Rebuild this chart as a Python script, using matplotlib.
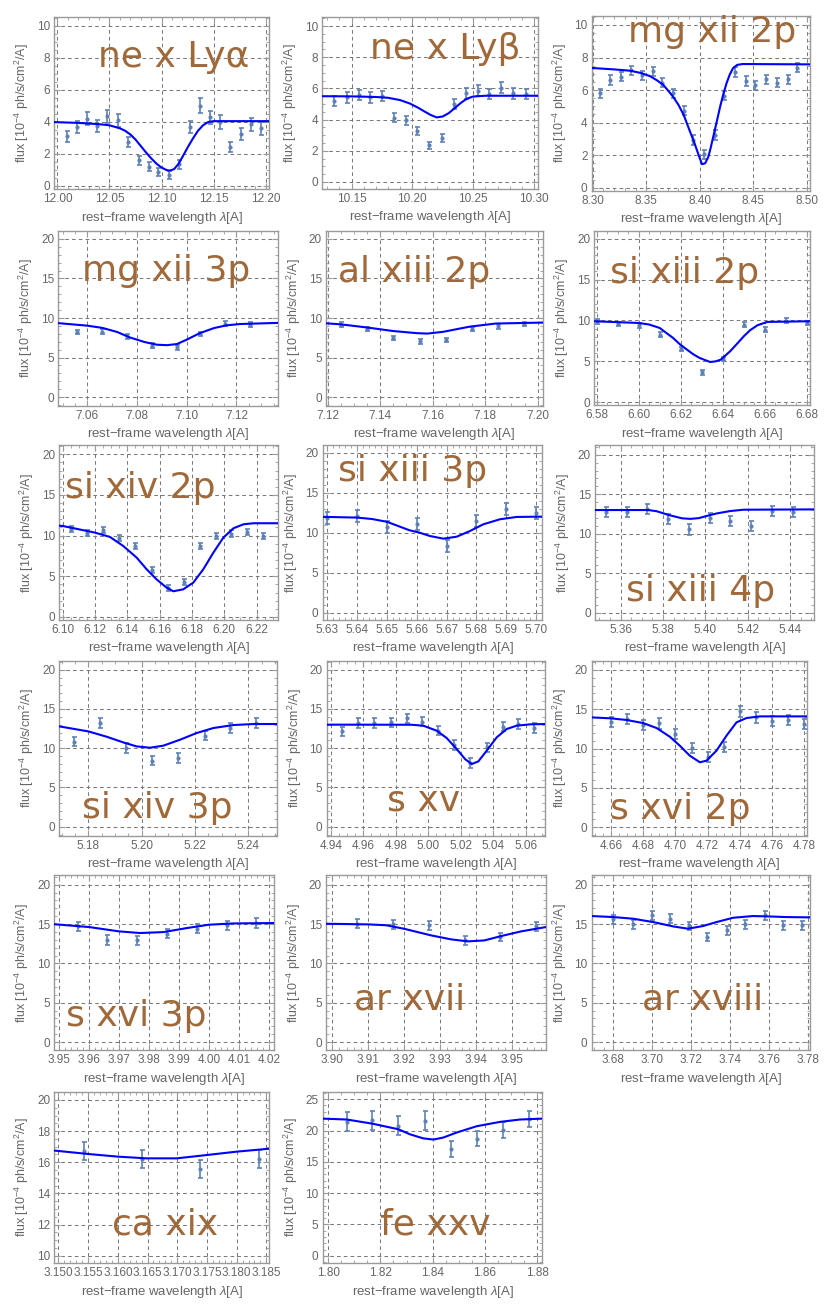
import numpy as np
import matplotlib
matplotlib.use("Agg")
import matplotlib.pyplot as plt
from matplotlib.ticker import MultipleLocator, AutoMinorLocator, FormatStrFormatter

plt.rcParams['font.family'] = ['Liberation Sans', 'DejaVu Sans']
plt.rcParams['mathtext.fontset'] = 'custom'
plt.rcParams['mathtext.rm'] = 'Liberation Sans'
plt.rcParams['mathtext.it'] = 'Liberation Sans:italic'

# ---------------- data ----------------
labels = ['ne x Lyα', 'ne x Lyβ', 'mg xii 2p', 'mg xii 3p', 'al xiii 2p', 'si xiii 2p',
          'si xiv 2p', 'si xiii 3p', 'si xiii 4p', 'si xiv 3p', 's xv', 's xvi 2p',
          's xvi 3p', 'ar xvii', 'ar xviii', 'ca xix', 'fe xxv']

ne10a_wl = [12.009, 12.019, 12.028, 12.038, 12.048, 12.058, 12.068, 12.078, 12.088, 12.097,
            12.107, 12.117, 12.127, 12.137, 12.147, 12.156, 12.166, 12.176, 12.186, 12.196]
ne10a_flux = [3.1, 3.7, 4.2, 3.75, 4.35, 4.1, 2.75, 1.6, 1.2, 0.85, 0.7, 1.35, 3.7, 5.0, 4.3,
              4.0, 2.45, 3.25, 3.85, 3.6]
ne10a_err = [0.35, 0.38, 0.4, 0.38, 0.42, 0.4, 0.33, 0.3, 0.27, 0.25, 0.25, 0.27, 0.37, 0.47,
             0.4, 0.42, 0.3, 0.35, 0.4, 0.4]
ne10a_mwl = [11.997, 12.02, 12.04, 12.05, 12.06, 12.065, 12.07, 12.075, 12.08, 12.085, 12.09,
             12.095, 12.10, 12.105, 12.108, 12.112, 12.116, 12.12, 12.125, 12.13, 12.135,
             12.14, 12.145, 12.15, 12.16, 12.2035]
ne10a_mflux = [3.99, 3.94, 3.86, 3.79, 3.6, 3.45, 3.22, 2.9, 2.5, 2.1, 1.73, 1.4, 1.15, 0.99,
               0.96, 1.05, 1.35, 1.8, 2.4, 2.95, 3.45, 3.8, 4.0, 4.05, 4.05, 4.05]

ne10b_wl = [10.136, 10.146, 10.156, 10.165, 10.175, 10.185, 10.195, 10.204, 10.214, 10.224,
            10.234, 10.244, 10.254, 10.263, 10.273, 10.283, 10.293]
ne10b_flux = [5.18, 5.42, 5.6, 5.42, 5.52, 4.13, 3.96, 3.25, 2.36, 2.83, 4.99, 5.68, 5.85,
              5.63, 6.04, 5.68, 5.63]
ne10b_err = [0.33, 0.33, 0.33, 0.33, 0.33, 0.28, 0.28, 0.25, 0.22, 0.25, 0.33, 0.35, 0.35,
             0.33, 0.35, 0.33, 0.33]
ne10b_mwl = [10.126, 10.15, 10.17, 10.18, 10.19, 10.198, 10.205, 10.21, 10.215, 10.22, 10.225,
             10.23, 10.235, 10.24, 10.245, 10.25, 10.26, 10.3035]
ne10b_mflux = [5.5, 5.49, 5.45, 5.4, 5.25, 5.03, 4.75, 4.52, 4.3, 4.14, 4.2, 4.42, 4.75, 5.08,
               5.35, 5.48, 5.53, 5.53]

mg12a_wl = [8.307, 8.316, 8.326, 8.336, 8.346, 8.356, 8.365, 8.375, 8.385, 8.394, 8.404,
            8.414, 8.423, 8.433, 8.443, 8.452, 8.462, 8.472, 8.482, 8.491]
mg12a_flux = [5.8, 6.62, 6.82, 7.23, 6.9, 7.15, 6.45, 5.8, 4.73, 2.93, 2.05, 3.24, 5.66, 7.11,
              6.56, 6.29, 6.66, 6.45, 6.66, 7.38]
mg12a_err = [0.28] * 20
mg12a_mwl = [8.299, 8.32, 8.335, 8.345, 8.3534, 8.36, 8.366, 8.37, 8.375, 8.38, 8.385, 8.39,
             8.395, 8.399, 8.402, 8.405, 8.408, 8.41, 8.4126, 8.416, 8.419, 8.422, 8.425,
             8.428, 8.431, 8.435, 8.44, 8.503]
mg12a_mflux = [7.36, 7.27, 7.19, 7.05, 6.86, 6.6, 6.31, 6.0, 5.6, 5.1, 4.47, 3.6, 2.75, 2.0,
               1.45, 1.5, 1.9, 2.4, 3.14, 4.1, 4.98, 5.75, 6.42, 6.95, 7.34, 7.55, 7.6, 7.58]

mg12b_wl = [7.056, 7.066, 7.076, 7.086, 7.096, 7.1055, 7.1154, 7.1254]
mg12b_flux = [8.23, 8.27, 7.68, 6.5, 6.29, 7.97, 9.28, 9.16]
mg12b_err = [0.3] * 8
mg12b_mwl = [7.0483, 7.06, 7.066, 7.072, 7.077, 7.083, 7.088, 7.092, 7.096, 7.100, 7.105,
             7.111, 7.116, 7.1215, 7.1366]
mg12b_mflux = [9.35, 9.03, 8.75, 8.23, 7.55, 6.96, 6.62, 6.56, 6.7, 7.26, 8.05, 8.73, 9.07,
               9.24, 9.38]

al13_wl = [7.1253, 7.1351, 7.145, 7.155, 7.1651, 7.1749, 7.1848, 7.1947]
al13_flux = [9.16, 8.6, 7.47, 7.05, 7.22, 8.6, 8.95, 9.24]
al13_err = [0.3] * 8
al13_mwl = [7.1194, 7.125, 7.135, 7.145, 7.154, 7.158, 7.164, 7.174, 7.184, 7.2019]
al13_mflux = [9.33, 9.2, 8.8, 8.35, 8.08, 8.03, 8.25, 8.9, 9.3, 9.42]

si13a_wl = [6.580, 6.590, 6.600, 6.610, 6.620, 6.630, 6.640, 6.650, 6.660, 6.670, 6.680]
si13a_flux = [9.9, 9.57, 9.41, 8.26, 6.5, 3.64, 5.28, 9.49, 8.88, 9.98, 9.69]
si13a_err = [0.3] * 11
si13a_mwl = [6.5789, 6.60, 6.605, 6.61, 6.613, 6.6164, 6.6195, 6.623, 6.626, 6.629, 6.634,
             6.6365, 6.639, 6.6435, 6.647, 6.650, 6.653, 6.6565, 6.6612, 6.6815]
si13a_mflux = [9.9, 9.69, 9.5, 9.08, 8.5, 7.85, 7.1, 6.42, 5.85, 5.4, 4.91, 4.98, 5.19, 6.22,
               7.2, 8.06, 8.8, 9.41, 9.82, 9.9]

si14a_wl = [6.105, 6.115, 6.125, 6.135, 6.145, 6.155, 6.165, 6.175, 6.185, 6.195, 6.204,
            6.214, 6.224]
si14a_flux = [10.86, 10.33, 10.66, 9.67, 8.73, 5.78, 3.61, 4.3, 8.73, 9.96, 10.25, 10.45, 9.96]
si14a_err = [0.38] * 13
si14a_mwl = [6.098, 6.10, 6.11, 6.12, 6.1293, 6.1375, 6.1458, 6.152, 6.1581, 6.1643, 6.1685,
             6.1746, 6.1808, 6.187, 6.1932, 6.1994, 6.2056, 6.2118, 6.218, 6.233]
si14a_mflux = [11.22, 11.19, 10.78, 10.37, 9.84, 8.73, 7.3, 5.86, 4.63, 3.61, 3.16, 3.4, 4.22,
               5.86, 7.9, 9.75, 10.9, 11.39, 11.52, 11.52]

si13b_wl = [5.630, 5.640, 5.650, 5.660, 5.670, 5.680, 5.690, 5.700]
si13b_flux = [11.88, 12.08, 10.7, 11.04, 8.33, 11.46, 12.92, 12.5]
si13b_err = [0.75] * 8
si13b_mwl = [5.6284, 5.64, 5.645, 5.65, 5.6575, 5.6609, 5.6644, 5.6689, 5.6734, 5.6778,
             5.6823, 5.6879, 5.6935, 5.7021]
si13b_mflux = [11.97, 11.88, 11.7, 11.35, 10.3, 10.0, 9.58, 9.25, 9.5, 10.2, 11.04, 11.67,
               11.96, 12.0]

si13c_wl = [5.353, 5.363, 5.3726, 5.3822, 5.3921, 5.402, 5.4118, 5.4214, 5.4315, 5.4413]
si13c_flux = [12.74, 12.74, 13.16, 11.9, 10.55, 12.03, 11.6, 10.97, 12.87, 12.74]
si13c_err = [0.65] * 10
si13c_mwl = [5.3479, 5.373, 5.377, 5.383, 5.389, 5.393, 5.397, 5.402, 5.4054, 5.4117, 5.418,
             5.4513]
si13c_mflux = [13.0, 13.0, 12.85, 12.35, 11.95, 11.88, 11.98, 12.35, 12.57, 12.87, 13.04, 13.08]

si14b_wl = [5.1748, 5.1844, 5.1941, 5.204, 5.2138, 5.2236, 5.2333, 5.243]
si14b_flux = [10.83, 13.2, 10.02, 8.41, 8.75, 11.59, 12.57, 13.2]
si14b_err = [0.6] * 8
si14b_mwl = [5.1691, 5.18, 5.1869, 5.1931, 5.1981, 5.2031, 5.2081, 5.2144, 5.2206, 5.2269,
             5.2344, 5.2419, 5.2509]
si14b_mflux = [12.78, 12.14, 11.46, 10.74, 10.23, 10.06, 10.32, 11.08, 11.93, 12.57, 12.95,
               13.08, 13.08]

s15_wl = [4.9467, 4.9569, 4.9668, 4.9768, 4.9867, 4.9963, 5.0062, 5.0158, 5.0258, 5.0359,
          5.0458, 5.0554, 5.0652]
s15_flux = [12.14, 13.2, 13.2, 13.29, 13.8, 13.38, 12.23, 10.4, 8.11, 10.11, 12.74, 13.08, 12.57]
s15_err = [0.6] * 13
s15_mwl = [4.9375, 4.9895, 4.9969, 5.0052, 5.0113, 5.0175, 5.0226, 5.0267, 5.0308, 5.0359,
           5.0421, 5.0482, 5.0544, 5.0626, 5.0718]
s15_mflux = [13.0, 12.99, 12.87, 12.23, 11.3, 9.89, 8.62, 7.98, 8.32, 9.68, 11.38, 12.44,
             12.87, 13.04, 13.08]

s16a_wl = [4.660, 4.670, 4.680, 4.690, 4.700, 4.710, 4.720, 4.730, 4.740, 4.750, 4.760,
           4.770, 4.780]
s16a_flux = [13.4, 13.74, 13.02, 13.19, 11.84, 10.02, 8.96, 10.15, 14.71, 13.95, 13.53,
             13.66, 13.11]
s16a_err = [0.65] * 13
s16a_mwl = [4.648, 4.66, 4.6697, 4.68, 4.6883, 4.6965, 4.7027, 4.7089, 4.7152, 4.7193,
            4.7255, 4.7317, 4.7379, 4.7441, 4.7524, 4.7815]
s16a_mflux = [13.95, 13.83, 13.62, 13.23, 12.6, 11.5, 10.36, 9.09, 8.25, 8.46, 9.73, 11.63,
              13.32, 13.87, 14.08, 14.08]

s16b_wl = [3.9562, 3.9661, 3.9761, 3.9861, 3.9961, 4.0059, 4.0158]
s16b_flux = [14.7, 13.0, 12.92, 13.77, 14.41, 14.83, 15.13]
s16b_err = [0.6] * 7
s16b_mwl = [3.9484, 3.96, 3.97, 3.977, 3.9848, 3.9926, 4.0, 4.0081, 4.0217]
s16b_mflux = [14.98, 14.62, 14.07, 13.86, 13.98, 14.49, 14.92, 15.08, 15.13]

ar17_wl = [3.9069, 3.9169, 3.9269, 3.9369, 3.9467, 3.9567]
ar17_flux = [15.04, 14.96, 14.83, 12.92, 13.35, 14.7]
ar17_err = [0.55] * 6
ar17_mwl = [3.8983, 3.91, 3.915, 3.92, 3.9275, 3.9331, 3.9377, 3.9423, 3.9469, 3.9525, 3.9594]
ar17_mflux = [15.04, 14.96, 14.85, 14.4, 13.56, 13.05, 12.8, 12.92, 13.47, 14.07, 14.62]

ar18_wl = [3.680, 3.690, 3.700, 3.709, 3.7186, 3.7282, 3.7383, 3.7478, 3.7576, 3.7672, 3.7767]
ar18_flux = [15.59, 14.96, 16.1, 15.68, 14.75, 13.35, 14.19, 14.96, 16.1, 14.83, 14.83]
ar18_err = [0.55] * 11
ar18_mwl = [3.6689, 3.68, 3.6902, 3.7005, 3.7107, 3.7183, 3.726, 3.7329, 3.7414, 3.7516,
            3.76, 3.7686, 3.7809]
ar18_mflux = [16.02, 15.89, 15.68, 15.25, 14.7, 14.41, 14.75, 15.25, 15.8, 16.02, 15.97,
              15.89, 15.85]

ca19_wl = [3.1543, 3.1641, 3.1738, 3.1837]
ca19_flux = [16.72, 16.21, 15.55, 16.21]
ca19_err = [0.57] * 4
ca19_mwl = [3.1493, 3.155, 3.16, 3.1648, 3.1699, 3.1749, 3.18, 3.1855]
ca19_mflux = [16.75, 16.53, 16.36, 16.25, 16.25, 16.46, 16.68, 16.87]

fe25_wl = [1.8071, 1.8169, 1.8269, 1.8371, 1.8469, 1.8569, 1.8669, 1.8768]
fe25_flux = [21.44, 21.65, 20.8, 21.6, 17.07, 18.72, 20.1, 21.86]
fe25_err = [1.5, 1.5, 1.45, 1.5, 1.3, 1.25, 1.3, 1.3]
fe25_mwl = [1.7979, 1.8071, 1.8169, 1.8269, 1.8313, 1.8364, 1.8403, 1.8441, 1.8492, 1.8569,
            1.8658, 1.8735, 1.882]
fe25_mflux = [21.9, 21.76, 21.1, 20.2, 19.4, 18.75, 18.56, 18.88, 19.68, 20.69, 21.38, 21.76,
              21.9]

# ---------------- layout / style ----------------
W, H = 827, 1311
BROWN = '#A0693A'
PT = '#5E81B5'
LINE = '#0000FF'
FRAME = '#9a9a9a'
TXT = '#666666'

series = [
    (ne10a_wl, ne10a_flux, ne10a_err, ne10a_mwl, ne10a_mflux),
    (ne10b_wl, ne10b_flux, ne10b_err, ne10b_mwl, ne10b_mflux),
    (mg12a_wl, mg12a_flux, mg12a_err, mg12a_mwl, mg12a_mflux),
    (mg12b_wl, mg12b_flux, mg12b_err, mg12b_mwl, mg12b_mflux),
    (al13_wl, al13_flux, al13_err, al13_mwl, al13_mflux),
    (si13a_wl, si13a_flux, si13a_err, si13a_mwl, si13a_mflux),
    (si14a_wl, si14a_flux, si14a_err, si14a_mwl, si14a_mflux),
    (si13b_wl, si13b_flux, si13b_err, si13b_mwl, si13b_mflux),
    (si13c_wl, si13c_flux, si13c_err, si13c_mwl, si13c_mflux),
    (si14b_wl, si14b_flux, si14b_err, si14b_mwl, si14b_mflux),
    (s15_wl, s15_flux, s15_err, s15_mwl, s15_mflux),
    (s16a_wl, s16a_flux, s16a_err, s16a_mwl, s16a_mflux),
    (s16b_wl, s16b_flux, s16b_err, s16b_mwl, s16b_mflux),
    (ar17_wl, ar17_flux, ar17_err, ar17_mwl, ar17_mflux),
    (ar18_wl, ar18_flux, ar18_err, ar18_mwl, ar18_mflux),
    (ca19_wl, ca19_flux, ca19_err, ca19_mwl, ca19_mflux),
    (fe25_wl, fe25_flux, fe25_err, fe25_mwl, fe25_mflux),
]

# axes boxes in pixels: left, top, right, bottom
boxes = [
    (54.3, 17.3, 269.3, 189.3), (322.3, 17.3, 538.3, 189.0), (591.7, 15.7, 810.0, 191.0),
    (58.3, 230.7, 277.7, 405.7), (326.0, 230.7, 542.7, 405.7), (594.3, 230.7, 810.0, 405.3),
    (59.3, 445.3, 277.7, 620.0), (322.7, 445.3, 542.3, 620.0), (595.0, 445.3, 814.0, 620.0),
    (59.3, 660.7, 277.3, 835.7), (326.7, 660.7, 545.0, 835.7), (591.7, 660.7, 806.7, 835.7),
    (54.3, 875.3, 274.0, 1050.3), (326.0, 875.3, 546.0, 1050.3), (591.7, 875.3, 810.0, 1050.3),
    (54.3, 1091.7, 269.3, 1263.3), (322.7, 1091.7, 542.3, 1263.3),
]
xlims = [(11.997, 12.2035), (10.126, 10.3035), (8.299, 8.503), (7.0483, 7.1366),
         (7.1194, 7.2019), (6.5789, 6.6815), (6.098, 6.233), (5.6284, 5.7021),
         (5.3479, 5.4513), (5.1691, 5.2509), (4.9375, 5.0718), (4.648, 4.7815),
         (3.9484, 4.0217), (3.8983, 3.9594), (3.6689, 3.7809), (3.1493, 3.1855),
         (1.7979, 1.882)]
ylims = [(-0.21, 10.54), (-0.45, 10.56), (-0.2, 10.57), (-1.1, 21.05), (-1.1, 21.05),
         (-0.4, 21.0), (-0.37, 21.1), (-0.9, 20.9), (-0.93, 21.2), (-1.15, 21.15),
         (-1.15, 21.15), (-1.07, 21.15), (-1.05, 21.2), (-1.05, 21.2), (-1.05, 21.2),
         (9.51, 20.53), (-1.2, 26.2)]
xsteps = [0.05, 0.05, 0.05, 0.02, 0.02, 0.02, 0.02, 0.01, 0.02, 0.02, 0.02, 0.02, 0.01,
          0.01, 0.02, 0.005, 0.02]
ysteps = [2, 2, 2] + [5] * 12 + [2, 5]
label_pos = [(0.205, 0.713), (0.221, 0.756), (0.167, 0.85), (0.107, 0.711), (0.057, 0.705),
             (0.073, 0.70), (0.026, 0.70), (0.07, 0.796), (0.14, 0.11), (0.103, 0.10),
             (0.275, 0.143), (0.085, 0.095), (0.053, 0.139), (0.127, 0.234), (0.229, 0.234),
             (0.267, 0.17), (0.262, 0.17)]

fig = plt.figure(figsize=(W / 100, H / 100), dpi=100)

for i, (wl, fl, er, mwl, mfl) in enumerate(series):
    l, t, r, b = boxes[i]
    ax = fig.add_axes([l / W, 1 - b / H, (r - l) / W, (b - t) / H])
    ax.set_xlim(*xlims[i])
    ax.set_ylim(*ylims[i])
    ax.xaxis.set_major_locator(MultipleLocator(xsteps[i]))
    fmt = '%.3f' if xsteps[i] < 0.01 else '%.2f'
    ax.xaxis.set_major_formatter(FormatStrFormatter(fmt))
    ax.yaxis.set_major_locator(MultipleLocator(ysteps[i]))
    ax.xaxis.set_minor_locator(AutoMinorLocator())
    ax.yaxis.set_minor_locator(AutoMinorLocator())
    ax.grid(True, which='major', color='#7a7a7a', linestyle=(0, (3.5, 3)), linewidth=0.75)
    ax.set_axisbelow(True)
    for sp in ax.spines.values():
        sp.set_color(FRAME)
        sp.set_linewidth(1.0)
    ax.tick_params(which='both', direction='in', top=True, right=True, color=FRAME,
                   labelcolor=TXT, labelsize=8.5, pad=3)
    ax.tick_params(which='major', length=4, width=0.8)
    ax.tick_params(which='minor', length=2, width=0.6)

    ax.errorbar(wl, fl, yerr=er, fmt='o', ms=2.0, color=PT, ecolor=PT, elinewidth=1.2,
                capsize=1.8, capthick=1.2, zorder=3)
    ax.plot(mwl, mfl, color=LINE, lw=1.5, zorder=4, solid_capstyle='round',
            solid_joinstyle='round')

    ax.set_xlabel('rest−frame wavelength $\\it{λ}$[A]', color=TXT, fontsize=9.5, labelpad=3)
    ax.set_ylabel('flux [10$^{-4}$ ph/s/cm$^{2}$/A]', color=TXT, fontsize=9, labelpad=4)

    lx, ly = label_pos[i]
    ax.text(lx, ly, labels[i], transform=ax.transAxes, ha='left', va='baseline',
            fontsize=26, color=BROWN, family=['DejaVu Sans'], zorder=5)

fig.savefig('out.png', dpi=100, facecolor='white')
